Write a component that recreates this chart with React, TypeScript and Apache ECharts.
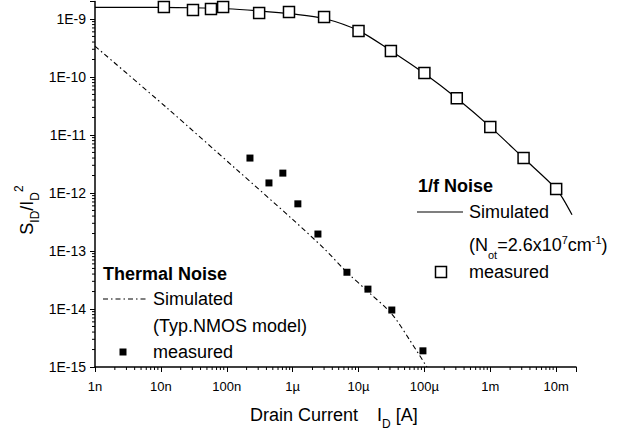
import React, { useEffect, useRef } from "react";
import * as echarts from "echarts";

const FONT = '"Liberation Sans", Arial, Helvetica, sans-serif';

// Axis tick labels (decades)
const xTickLabels = ["1n", "10n", "100n", "1µ", "10µ", "100µ", "1m", "10m"];
const yTickLabels = ["1E-15", "1E-14", "1E-13", "1E-12", "1E-11", "1E-10", "1E-9"];
const X_MIN = 1e-9;
const X_MAX = 2e-2;
const Y_MIN = 1e-15;
const Y_MAX = 2e-9;

// 1/f noise – simulated
const flickerSimX = [1e-9, 1e-8, 3e-8, 1e-7, 3e-7, 1e-6, 3e-6, 1e-5, 3e-5, 1e-4, 3.1e-4, 1e-3, 3.2e-3, 1e-2, 1.3e-2, 1.74e-2];
const flickerSimY = [1.58e-9, 1.58e-9, 1.56e-9, 1.5e-9, 1.38e-9, 1.22e-9, 1.02e-9, 6.3e-10, 2.9e-10, 1.15e-10, 4.3e-11, 1.38e-11, 4.0e-12, 1.18e-12, 7.6e-13, 4.2e-13];

// 1/f noise – measured
const flickerMeasX = [1.11e-8, 3.07e-8, 5.76e-8, 8.8e-8, 3.1e-7, 8.8e-7, 3.0e-6, 1.0e-5, 3.1e-5, 1.0e-4, 3.1e-4, 1.0e-3, 3.2e-3, 1.0e-2];
const flickerMeasY = [1.61e-9, 1.43e-9, 1.49e-9, 1.61e-9, 1.27e-9, 1.32e-9, 1.08e-9, 6.2e-10, 2.8e-10, 1.17e-10, 4.3e-11, 1.37e-11, 4.0e-12, 1.17e-12];

// Thermal noise – simulated
const thermalSimX = [1e-9, 1.24e-8, 1.43e-7, 1e-6, 3e-6, 6.67e-6, 1.39e-5, 3.2e-5, 6e-5, 1.09e-4];
const thermalSimY = [3.4e-10, 2.92e-11, 2.5e-12, 3.5e-13, 1.1e-13, 4.3e-14, 2.0e-14, 8.2e-15, 2.9e-15, 1e-15];

// Thermal noise – measured
const thermalMeasX = [2.25e-7, 4.37e-7, 7.1e-7, 1.2e-6, 2.42e-6, 6.67e-6, 1.39e-5, 3.2e-5, 9.5e-5];
const thermalMeasY = [4.0e-12, 1.49e-12, 2.2e-12, 6.5e-13, 1.96e-13, 4.3e-14, 2.2e-14, 9.6e-15, 1.9e-15];

// Minor tick positions (2..9 per decade)
const minorMultipliers = [2, 3, 4, 5, 6, 7, 8, 9];
const xMinorDecades = [-9, -8, -7, -6, -5, -4, -3];
const yMinorDecades = [-15, -14, -13, -12, -11, -10];

const zip = (a: number[], b: number[]) => a.map((v, i) => [v, b[i]]);

const decadeLabel = (v: number, labels: string[], firstExp: number) => {
  const e = Math.log10(v);
  const r = Math.round(e);
  if (Math.abs(e - r) > 0.01) return "";
  return labels[r - firstExp] ?? "";
};

export default function App() {
  const ref = useRef<HTMLDivElement>(null);

  useEffect(() => {
    if (!ref.current) return;
    const chart = echarts.init(ref.current, undefined, { renderer: "svg" });

    const xMinor: number[][] = [];
    xMinorDecades.forEach((d) => minorMultipliers.forEach((m) => xMinor.push([m * Math.pow(10, d), Y_MIN])));
    const yMinor: number[][] = [];
    yMinorDecades.forEach((d) => minorMultipliers.forEach((m) => yMinor.push([X_MIN, m * Math.pow(10, d)])));

    const txt = (x: number, y: number, text: string, extra: any = {}) => ({
      type: "text",
      x,
      y,
      silent: true,
      style: {
        text,
        fontFamily: FONT,
        fontSize: 18,
        fill: "#000",
        align: "left",
        verticalAlign: "middle",
        ...extra,
      },
    });

    const small = (extra: any = {}) => ({ fontFamily: FONT, fontSize: 12, fill: "#000", ...extra });

    const option: any = {
      animation: false,
      backgroundColor: "#fff",
      grid: { left: 95, right: 45, top: 1.5, bottom: 66, containLabel: false },
      xAxis: {
        type: "log",
        logBase: 10,
        min: X_MIN,
        max: X_MAX,
        axisLine: { show: true, lineStyle: { color: "#000", width: 1.5 } },
        axisTick: { show: true, inside: false, length: 5, lineStyle: { color: "#000", width: 1 } },
        minorTick: { show: false },
        splitLine: { show: false },
        axisLabel: {
          color: "#000",
          fontSize: 13,
          fontFamily: FONT,
          margin: 13,
          formatter: (v: number) => decadeLabel(v, xTickLabels, -9),
        },
      },
      yAxis: {
        type: "log",
        logBase: 10,
        min: Y_MIN,
        max: Y_MAX,
        axisLine: { show: true, lineStyle: { color: "#000", width: 1.5 } },
        axisTick: { show: true, inside: false, length: 5, lineStyle: { color: "#000", width: 1 } },
        minorTick: { show: false },
        splitLine: { show: false },
        axisLabel: {
          color: "#000",
          fontSize: 14,
          fontFamily: FONT,
          margin: 9,
          formatter: (v: number) => decadeLabel(v, yTickLabels, -15),
        },
      },
      series: [
        {
          type: "custom",
          silent: true,
          data: xMinor,
          renderItem: (_p: any, api: any) => {
            const p = api.coord([api.value(0), api.value(1)]);
            return {
              type: "line",
              shape: { x1: p[0], y1: p[1], x2: p[0], y2: p[1] + 3 },
              style: { stroke: "#000", lineWidth: 1 },
            };
          },
          z: 1,
        },
        {
          type: "custom",
          silent: true,
          data: yMinor,
          renderItem: (_p: any, api: any) => {
            const p = api.coord([api.value(0), api.value(1)]);
            return {
              type: "line",
              shape: { x1: p[0], y1: p[1], x2: p[0] - 3, y2: p[1] },
              style: { stroke: "#000", lineWidth: 1 },
            };
          },
          z: 1,
        },
        {
          name: "1/f simulated",
          type: "line",
          data: zip(flickerSimX, flickerSimY),
          showSymbol: false,
          symbol: "none",
          smooth: 0.3,
          lineStyle: { color: "#000", width: 1.2 },
          z: 2,
        },
        {
          name: "Thermal simulated",
          type: "line",
          data: zip(thermalSimX, thermalSimY),
          showSymbol: false,
          symbol: "none",
          smooth: 0.3,
          lineStyle: { color: "#000", width: 1.1, type: [5, 3, 1.5, 3] },
          z: 2,
        },
        {
          name: "1/f measured",
          type: "scatter",
          data: zip(flickerMeasX, flickerMeasY),
          symbol: "rect",
          symbolSize: 11,
          itemStyle: { color: "#fff", borderColor: "#000", borderWidth: 1.5, opacity: 1 },
          z: 3,
        },
        {
          name: "Thermal measured",
          type: "scatter",
          data: zip(thermalMeasX, thermalMeasY),
          symbol: "rect",
          symbolSize: 7,
          itemStyle: { color: "#000", opacity: 1 },
          z: 3,
        },
      ],
      graphic: [
        // Y axis title
        {
          type: "text",
          x: 27,
          y: 210,
          rotation: Math.PI / 2,
          silent: true,
          style: {
            text: "S{b|ID}/I{b|D}{t|2}",
            fontFamily: FONT,
            fontSize: 18,
            lineHeight: 28,
            fill: "#000",
            align: "center",
            verticalAlign: "middle",
            rich: {
              b: small({ verticalAlign: "bottom" }),
              t: small({ verticalAlign: "top" }),
            },
          },
        },
        // X axis title
        txt(250, 415, "Drain Current"),
        txt(377, 415, "I{b|D} [A]", {
          lineHeight: 30,
          rich: { b: small({ verticalAlign: "bottom" }) },
        }),
        // Thermal noise legend
        txt(103, 274, "Thermal Noise", { fontWeight: "bold" }),
        {
          type: "line",
          silent: true,
          shape: { x1: 103, y1: 299, x2: 148, y2: 299 },
          style: { stroke: "#000", lineWidth: 1.1, lineDash: [5, 3, 1.5, 3] },
        },
        txt(153, 299, "Simulated"),
        txt(153, 326, "(Typ.NMOS model)"),
        {
          type: "rect",
          silent: true,
          shape: { x: 119.5, y: 348.5, width: 7, height: 7 },
          style: { fill: "#000" },
        },
        txt(153, 352, "measured"),
        // 1/f noise legend
        txt(418, 186, "1/f Noise", { fontWeight: "bold" }),
        {
          type: "line",
          silent: true,
          shape: { x1: 417, y1: 212, x2: 463, y2: 212 },
          style: { stroke: "#000", lineWidth: 1.2 },
        },
        txt(469, 212, "Simulated"),
        txt(469, 245, "(N{s|ot}=2.6x10{p|7}cm{p|-1})", {
          lineHeight: 30,
          rich: {
            s: small({ fontSize: 11, verticalAlign: "bottom" }),
            p: small({ fontSize: 11, verticalAlign: "top", padding: [4, 0, 0, 0] }),
          },
        }),
        {
          type: "rect",
          silent: true,
          shape: { x: 435.5, y: 266.5, width: 11, height: 11 },
          style: { fill: "#fff", stroke: "#000", lineWidth: 1.5 },
        },
        txt(469, 272, "measured"),
      ],
    };

    chart.setOption(option);
    return () => chart.dispose();
  }, []);

  return (
    <div
      ref={ref}
      style={{ position: "absolute", left: 0, top: 0, width: 621, height: 433, background: "#fff" }}
    />
  );
}
